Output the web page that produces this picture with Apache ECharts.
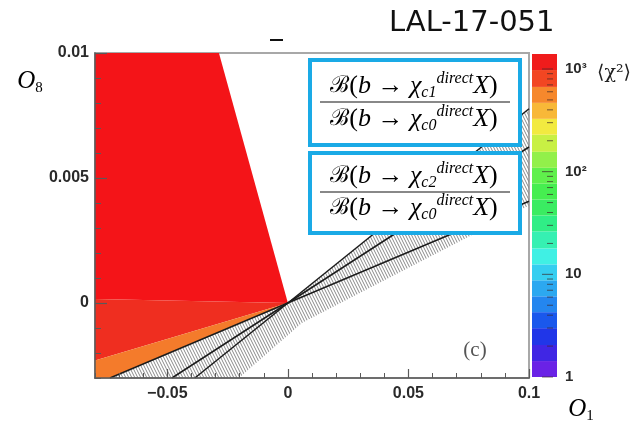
<!DOCTYPE html>
<html><head><meta charset="utf-8">
<script src="https://cdn.jsdelivr.net/npm/echarts@6/dist/echarts.min.js"></script>
<style>html,body{margin:0;padding:0;background:#fff}#c{width:640px;height:424px}</style>
</head><body><div id="c"></div>
<script>
// ---- data ----
const xMin = -0.08, xMax = 0.1;
const yMin = -0.003, yMax = 0.01;
const xMajorTicks = [-0.05, 0, 0.05, 0.1];
const xMinorTicks = [-0.08,-0.07,-0.06,-0.05,-0.04,-0.03,-0.02,-0.01,0,0.01,0.02,0.03,0.04,0.05,0.06,0.07,0.08,0.09,0.1];
const yMajorTicks = [0, 0.005, 0.01];
const yMinorTicks = [-0.003,-0.002,-0.001,0,0.001,0.002,0.003,0.004,0.005,0.006,0.007,0.008,0.009,0.01];

// filled chi2 regions (polygon vertices, [O1, O8])
const regionRed    = [[-0.08,0.01],[-0.0286,0.01],[0,0],[-0.08,0.00016]];
const regionRedOr  = [[-0.08,0.00016],[0,0],[-0.08,-0.0023]];
const regionOrange = [[-0.08,-0.0023],[0,0],[-0.0738,-0.003],[-0.08,-0.003]];
// hatched uncertainty band
const hatchBand = [[-0.0738,-0.003],[0,0],[0.1,0.00777],[0.1,0.0039],[0.0058,-0.0008],[-0.0203,-0.003]];
// black lines through the origin
const line1 = [[-0.0738,-0.003],[0.1,0.00407]];
const line2 = [[-0.0481,-0.003],[0.1,0.00624]];
const line3 = [[-0.0386,-0.003],[0.1,0.00777]];

// colour bar (chi2, log scale)
const cbEdges = [1,1.43,2.05,2.99,4.28,6.11,8.75,12.5,17.9,26.2,37.4,53.5,76.4,109,156,229,327,468,669,977,1400];
const cbColors = ['#6a22e6','#4026e4','#2036e8','#1a58ec','#2486ef','#2ca8f0','#36cef0','#40f0e4','#36f0b2','#30ee86',
                  '#3aec62','#46ee50','#60f04c','#92f04a','#c8f044','#f2ea40','#f8b838','#f6882c','#f24622','#f01c1c'];
const cbMajorTicks = [1,10,100,1000];
const cbMinorTicks = [2,3,4,5,6,7,8,9,20,30,40,50,60,70,80,90,200,300,400,500,600,700,800,900];
const cbLabels = {1:'1',10:'10',100:'10²',1000:'10³'};

// ---- drawing ----
function makeHatch(){
  const c = document.createElement('canvas'); c.width = 3; c.height = 6;
  const g = c.getContext('2d');
  g.strokeStyle = '#8a8a8a'; g.lineWidth = 1;
  g.beginPath(); g.moveTo(0,0); g.lineTo(3,6); g.moveTo(-3,0); g.lineTo(0,6); g.moveTo(3,0); g.lineTo(6,6); g.stroke();
  return c;
}
const hatchPattern = {image: makeHatch(), repeat: 'repeat'};

function polySeries(pts, fill, z){
  return {type:'custom', xAxisIndex:0, yAxisIndex:0, z:z, silent:true, data:[0],
    renderItem:(p, api)=>({type:'polygon', shape:{points: pts.map(q=>api.coord(q))}, style:{fill: fill, stroke:null}})};
}
function lineSeries(pts){
  return {type:'line', xAxisIndex:0, yAxisIndex:0, z:4, data:pts, symbol:'none', silent:true,
    lineStyle:{color:'#1c1c1c', width:1.5}, animation:false};
}
const fmt = v => v === 0 ? '0' : String(v).replace('-', '\u2212');
const tickLbl = {fontFamily:'Liberation Sans, Arial, sans-serif', fontWeight:'bold', fontSize:16, color:'#2a2a2a'};

const chart = echarts.init(document.getElementById('c'), null, {renderer:'canvas'});
const richFrac = {
  B:{fontFamily:'DejaVu Serif, serif', fontSize:23, color:'#1a1a1a', verticalAlign:'middle', lineHeight:30},
  m:{fontFamily:'Liberation Serif, serif', fontSize:26, color:'#1a1a1a', verticalAlign:'middle', lineHeight:30},
  i:{fontFamily:'Liberation Serif, serif', fontStyle:'italic', fontSize:26, color:'#1a1a1a', verticalAlign:'middle', lineHeight:30},
  sub:{fontFamily:'Liberation Serif, serif', fontStyle:'italic', fontSize:16, color:'#1a1a1a', verticalAlign:'bottom', lineHeight:30},
  sup:{fontFamily:'Liberation Serif, serif', fontStyle:'italic', fontSize:16, color:'#1a1a1a', verticalAlign:'top', lineHeight:30}
};
function fracText(s){ return '{B|ℬ}{m|(}{i|b}{m| → }{i|χ}{sub|c' + s + '}{sup|direct}{i|X}{m|)}'; }
function txt(str, x, y, rich){ return {type:'text', z:101, style:{text:str, x:x, y:y, align:'center', verticalAlign:'middle', rich:rich}}; }
const oRich = {o:{fontFamily:'Liberation Serif, serif', fontStyle:'italic', fontSize:25, color:'#2c3552', verticalAlign:'middle', lineHeight:30},
               s:{fontFamily:'Liberation Serif, serif', fontSize:15, color:'#2c3552', verticalAlign:'bottom', lineHeight:30}};

chart.setOption({
  animation:false,
  grid:[
    {left:95, top:53, width:434, height:325, show:true, borderColor:'#a8a8a8', borderWidth:2, backgroundColor:'transparent', outerBoundsMode:'none'},
    {left:532, top:54, width:25, height:323, show:false, outerBoundsMode:'none'}
  ],
  xAxis:[
    {type:'value', gridIndex:0, z:10, min:xMin, max:xMax, position:'bottom',
     axisLine:{show:true, onZero:false, lineStyle:{color:'#5a5a5a', width:1.5}},
     axisTick:{show:true, inside:true, length:9, customValues:xMajorTicks, lineStyle:{color:'#5a5a5a', width:1.2}},
     axisLabel:Object.assign({show:true, margin:8, customValues:xMajorTicks, formatter:fmt}, tickLbl),
     splitLine:{show:false}},
    {type:'value', gridIndex:0, z:10, min:xMin, max:xMax, position:'bottom',
     axisLine:{show:false, onZero:false}, axisLabel:{show:false}, splitLine:{show:false},
     axisTick:{show:true, inside:true, length:5, customValues:xMinorTicks, lineStyle:{color:'#5a5a5a', width:1}}},
    {type:'value', gridIndex:1, min:0, max:1, show:false}
  ],
  yAxis:[
    {type:'value', gridIndex:0, z:10, min:yMin, max:yMax, position:'left',
     axisLine:{show:true, onZero:false, lineStyle:{color:'#5a5a5a', width:1.5}},
     axisTick:{show:true, inside:true, length:12, customValues:yMajorTicks, lineStyle:{color:'#5a5a5a', width:1.2}},
     axisLabel:Object.assign({show:true, margin:6, customValues:yMajorTicks, formatter:fmt}, tickLbl),
     splitLine:{show:false}},
    {type:'value', gridIndex:0, z:10, min:yMin, max:yMax, position:'left',
     axisLine:{show:false, onZero:false}, axisLabel:{show:false}, splitLine:{show:false},
     axisTick:{show:true, inside:true, length:6, customValues:yMinorTicks, lineStyle:{color:'#5a5a5a', width:1}}},
    {type:'log', gridIndex:1, min:1, max:1400, position:'right',
     axisLine:{show:false}, axisTick:{show:false}, splitLine:{show:false},
     axisLabel:Object.assign({show:true, margin:8, formatter:v => cbLabels[Math.round(v)] || ''}, tickLbl, {fontSize:15})}
  ],
  series:[
    polySeries(regionRed, '#f41418', 1),
    polySeries(regionRedOr, '#ef2e20', 1),
    polySeries(regionOrange, '#f47b2b', 1),
    polySeries(hatchBand, hatchPattern, 2),
    lineSeries(line1), lineSeries(line2), lineSeries(line3),
    {type:'custom', xAxisIndex:2, yAxisIndex:2, silent:true, data:cbColors.map((c,i)=>i),
     renderItem:(p, api)=>{ const i = api.value(0);
       const a = api.coord([0, cbEdges[i]]), b = api.coord([1, cbEdges[i+1]]);
       return {type:'rect', shape:{x:a[0], y:b[1], width:b[0]-a[0], height:a[1]-b[1]}, style:{fill:cbColors[i]}}; }},
    {type:'custom', xAxisIndex:2, yAxisIndex:2, silent:true, z:5,
     data:cbMajorTicks.map(v=>[v,1]).concat(cbMinorTicks.map(v=>[v,0])),
     renderItem:(p, api)=>{ const v = api.value(0), major = api.value(1);
       const q = api.coord([1, v]); const len = major ? 11 : 6;
       return {type:'line', shape:{x1:q[0]-4-len, y1:q[1], x2:q[0]-4, y2:q[1]}, style:{stroke:'rgba(60,40,40,0.7)', lineWidth:1}}; }}
  ],
  graphic:[
    {type:'text', z:101, style:{text:'LAL-17-051', x:389, y:23, align:'left', verticalAlign:'middle', fontFamily:'DejaVu Sans, sans-serif', fontSize:29, fill:'#111'}},
    {type:'rect', z:101, shape:{x:270, y:39, width:13, height:2}, style:{fill:'#111'}},
    {type:'rect', z:100, shape:{x:310, y:60, width:210, height:85}, style:{fill:'#fff', stroke:'#1aaae6', lineWidth:4}},
    {type:'rect', z:100, shape:{x:310, y:153, width:210, height:80}, style:{fill:'#fff', stroke:'#1aaae6', lineWidth:4}},
    txt(fracText('1'), 414, 86, richFrac),
    {type:'line', z:101, shape:{x1:320, y1:102, x2:510, y2:102}, style:{stroke:'#888', lineWidth:2}},
    txt(fracText('0'), 414, 119, richFrac),
    txt(fracText('2'), 414, 176, richFrac),
    {type:'line', z:101, shape:{x1:320, y1:192, x2:510, y2:192}, style:{stroke:'#888', lineWidth:2}},
    txt(fracText('0'), 414, 208, richFrac),
    {type:'text', z:101, style:{text:'(c)', x:475, y:350, align:'center', verticalAlign:'middle', fontFamily:'Liberation Serif, serif', fontSize:21, fill:'#555'}},
    txt('{o|O}{s|8}', 30, 81, oRich),
    txt('{o|O}{s|1}', 581, 409, oRich),
    {type:'text', z:101, style:{text:'⟨χ²⟩', x:597, y:73, align:'left', verticalAlign:'middle', fontFamily:'DejaVu Serif, serif', fontSize:19, fill:'#222'}}
  ]
});
</script></body></html>
